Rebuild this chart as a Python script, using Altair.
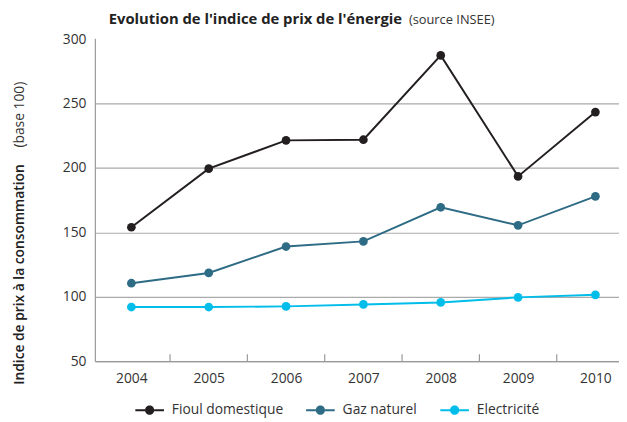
import altair as alt
import pandas as pd

years = [2004, 2005, 2006, 2007, 2008, 2009, 2010]
fioul = [154, 199.5, 221.5, 222, 287.5, 193.5, 243.5]
gaz = [110.5, 118.5, 139, 143, 169.5, 155.5, 178]
elec = [92, 92, 92.5, 94, 95.6, 99.5, 101.5]
series_names = ["Fioul domestique", "Gaz naturel", "Electricité"]
series_colors = ["#231f20", "#2e6b85", "#00bde9"]
y_ticks = [50, 100, 150, 200, 250, 300]
x_between = [2004.5, 2005.5, 2006.5, 2007.5, 2008.5, 2009.5]

rows = []
for name, vals in zip(series_names, [fioul, gaz, elec]):
    for yr, v in zip(years, vals):
        rows.append({"annee": yr, "indice": v, "serie": name})
df = pd.DataFrame(rows)

W, H = 531, 327
FONT = "Open Sans"

xscale = alt.Scale(domain=[2003.528, 2010.305], nice=False, zero=False)
yscale = alt.Scale(domain=[50, 300.8], nice=False, zero=False)
cscale = alt.Scale(domain=series_names, range=series_colors)

x_enc = alt.X("annee:Q", scale=xscale, title=None,
              axis=alt.Axis(values=years, format="d", ticks=False, grid=False,
                            labelPadding=11, labelFontSize=14, labelColor="#333",
                            labelFont=FONT, domainColor="#999", domainWidth=1.2))
y_enc = alt.Y("indice:Q", scale=yscale, title=None,
              axis=alt.Axis(values=y_ticks, ticks=False, labelPadding=9,
                            labelFontSize=14, labelColor="#333", labelFont=FONT,
                            domainColor="#999", domainWidth=1.2,
                            gridColor="#aaa", gridWidth=1.2,
                            gridOpacity={"condition": {"test": "datum.value >= 300", "value": 0}, "value": 1}))

# filled legend glyph: short line on each side of a dot
sym = ("M-1,-0.07L-0.32,-0.07L-0.32,0.07L-1,0.07Z "
       "M0.32,-0.07L1,-0.07L1,0.07L0.32,0.07Z "
       "M-0.32,0a0.32,0.32 0 1,0 0.64,0a0.32,0.32 0 1,0 -0.64,0Z")
leg = alt.Legend(title=None, orient="none", legendX=41, legendY=362,
                 direction="horizontal", symbolType=sym, symbolSize=841,
                 symbolStrokeWidth=0, labelFontSize=14, labelFont=FONT,
                 symbolFillColor=alt.ExprRef(expr="scale('stroke', datum.value)"),
                 labelColor="#333", columnPadding=23, labelOffset=8)

base = alt.Chart(df)
lines = base.mark_line(strokeWidth=2).encode(
    x=x_enc, y=y_enc,
    stroke=alt.Stroke("serie:N", scale=cscale, legend=leg),
    detail="serie:N",
)
points = base.mark_point(filled=True, size=78, opacity=1).encode(
    x="annee:Q", y="indice:Q",
    fill=alt.Fill("serie:N", scale=cscale, legend=None),
)

ticks_df = pd.DataFrame({"t": x_between})
xticks = alt.Chart(ticks_df).mark_rule(color="#999", strokeWidth=1.2).encode(
    x=alt.X("t:Q", scale=xscale),
    y=alt.value(H - 7), y2=alt.value(H),
)

title_df = pd.DataFrame({"a": ["Evolution de l'indice de prix de l'énergie"], "b": ["(source INSEE)"]})
t1 = alt.Chart(title_df).mark_text(align="left", baseline="middle", fontSize=15, fontWeight="bold",
                                   font=FONT, color="#222").encode(
    text="a:N", x=alt.value(14), y=alt.value(-19))
t2 = alt.Chart(title_df).mark_text(align="right", baseline="middle", fontSize=13,
                                   font=FONT, color="#333").encode(
    text="b:N", x=alt.value(405), y=alt.value(-19))

ytitle_df = pd.DataFrame({"a": ["Indice de prix à la consommation"], "b": ["(base 100)"]})
yt1 = alt.Chart(ytitle_df).mark_text(align="left", baseline="middle", fontSize=14, fontWeight=600,
                                     angle=270, font=FONT, color="#222").encode(
    text="a:N", x=alt.value(-76), y=alt.value(351))
yt2 = alt.Chart(ytitle_df).mark_text(align="right", baseline="middle", fontSize=14,
                                     angle=270, font=FONT, color="#333").encode(
    text="b:N", x=alt.value(-76), y=alt.value(44))

chart = alt.layer(xticks, lines, points, t1, t2, yt1, yt2).properties(
    width=W, height=H,
    autosize=alt.AutoSizeParams(type="none"),
    padding={"left": 88, "top": 28, "right": 0, "bottom": 58},
).configure_view(stroke=None)

chart.save("out.html", embed_options={"renderer": "svg", "actions": False})
